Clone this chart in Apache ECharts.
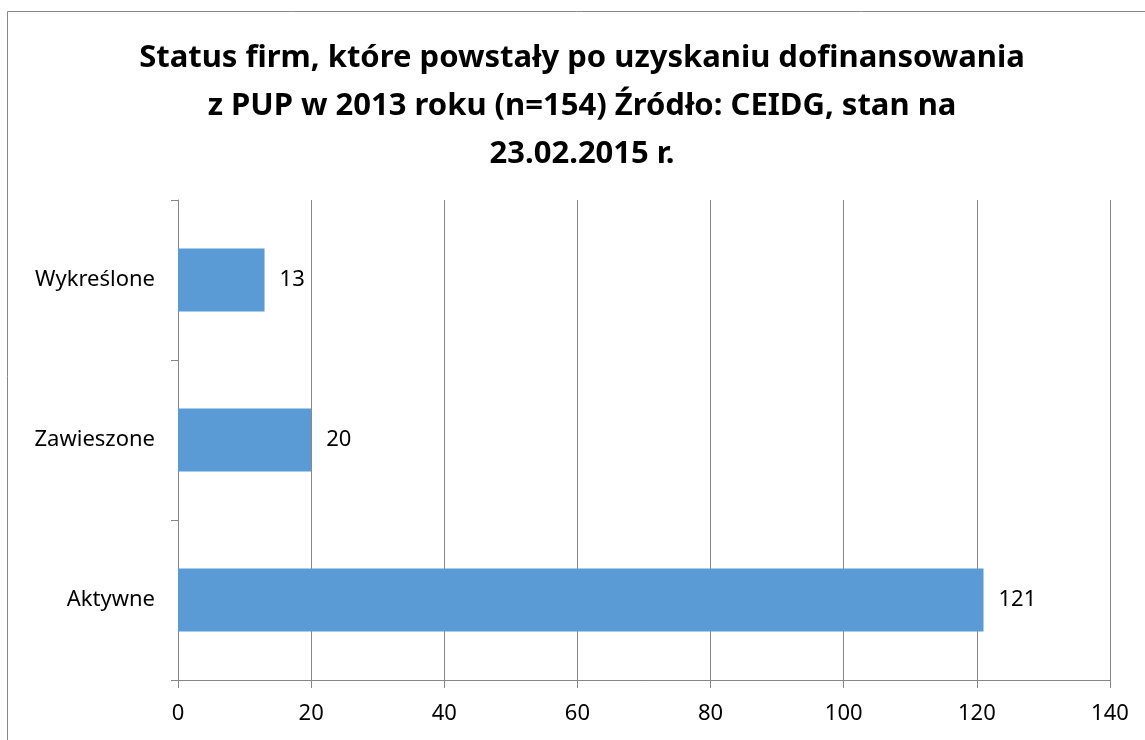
<!DOCTYPE html>
<html>
<head>
<meta charset="utf-8">
<script src="https://cdn.jsdelivr.net/npm/echarts@6/dist/echarts.min.js"></script>
<style>
  html, body { margin: 0; padding: 0; background: #fff; }
  #chart { width: 1145px; height: 740px; }
</style>
</head>
<body>
<div id="chart"></div>
<script>
const categories = ["Aktywne", "Zawieszone", "Wykreślone"];
const values = [121, 20, 13];
const xTicks = [0, 20, 40, 60, 80, 100, 120, 140];
const titleText = "Status firm, które powstały po uzyskaniu dofinansowania\nz PUP w 2013 roku (n=154) Źródło: CEIDG, stan na\n23.02.2015 r.";

const chart = echarts.init(document.getElementById("chart"));
const option = {
  backgroundColor: "#fff",
  textStyle: { fontFamily: "Noto Sans" },
  graphic: [
    {
      type: "rect",
      shape: { x: 7.5, y: 11.5, width: 1160, height: 740 },
      style: { fill: "none", stroke: "#888", lineWidth: 1 },
      silent: true
    },
    {
      // chart title, centred on the (partly cropped) chart frame
      type: "text",
      x: 582,
      y: 34,
      silent: true,
      style: {
        text: titleText,
        align: "center",
        verticalAlign: "top",
        fontFamily: "Noto Sans",
        fontSize: 31,
        fontWeight: "bold",
        fill: "#000",
        lineHeight: 48
      }
    }
  ],
  grid: { left: 178, right: 35, top: 200, bottom: 60 },
  xAxis: {
    type: "value",
    min: xTicks[0],
    max: xTicks[xTicks.length - 1],
    interval: 20,
    axisLine: { show: true, lineStyle: { color: "#868686" } },
    axisTick: { show: true, length: 8, lineStyle: { color: "#868686" } },
    axisLabel: { color: "#000", fontSize: 22, margin: 23 },
    splitLine: { show: true, lineStyle: { color: "#868686" } }
  },
  yAxis: {
    type: "category",
    data: categories,
    axisLine: { show: true, lineStyle: { color: "#868686" } },
    axisTick: { show: true, length: 7, lineStyle: { color: "#868686" } },
    axisLabel: { color: "#000", fontSize: 22, margin: 23 }
  },
  series: [
    {
      type: "bar",
      data: values,
      barWidth: 63,
      itemStyle: { color: "#5B9BD5" },
      label: {
        show: true,
        position: "right",
        distance: 15,
        color: "#000",
        fontSize: 22
      }
    }
  ]
};
chart.setOption(option);
</script>
</body>
</html>
